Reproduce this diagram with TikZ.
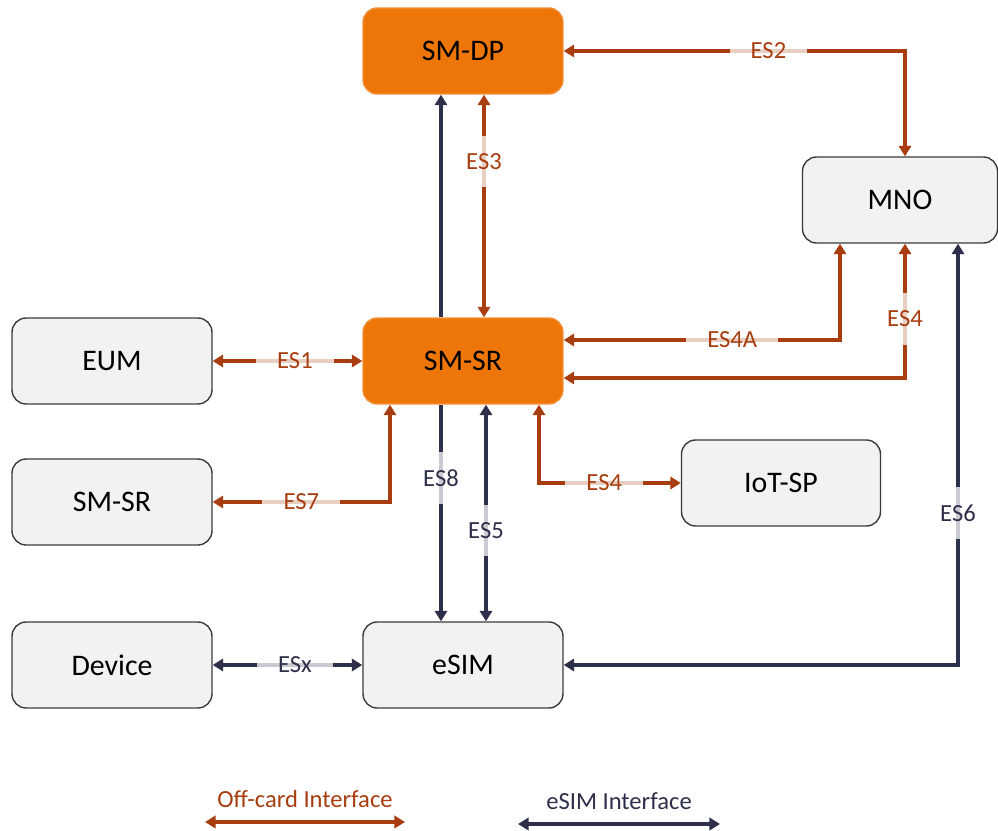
\documentclass[tikz,border=0pt]{standalone}
\usepackage{fontspec}
\setmainfont{Carlito}
\usetikzlibrary{arrows.meta,calc}
\definecolor{offc}{HTML}{A83D0F}
\definecolor{simc}{HTML}{2E2F4A}
\definecolor{orng}{HTML}{EE7608}
\definecolor{boxg}{HTML}{F2F2F2}
\definecolor{brdr}{HTML}{3A3A3A}
\begin{document}
\begin{tikzpicture}[x=0.02cm,y=-0.02cm,
    >={Triangle[width=7pt,length=6pt]},
    ent/.style={rectangle,rounded corners=8pt,minimum width=4cm,minimum height=1.72cm,
      fill=boxg,draw=brdr,line width=0.8pt,font=\fontsize{17}{20}\selectfont},
    hot/.style={ent,fill=orng,draw=orng!80!white},
    off/.style={<->,draw=offc,line width=2pt},
    sim/.style={<->,draw=simc,line width=2pt},
    lbl/.style={fill=white,fill opacity=0.75,text opacity=1,inner xsep=12pt,inner ysep=1pt,
      font=\fontsize{14}{16}\selectfont},
    lblv/.style={lbl,inner xsep=1pt,inner ysep=10pt}]
  \useasboundingbox (0,0) rectangle (998,831);
  % entities
  \node[hot] (smdp) at (463,51) {SM-DP};
  \node[hot] (smsr) at (463,361) {SM-SR};
  \node[ent,minimum width=3.9cm] (mno) at (900,200) {MNO};
  \node[ent] (eum) at (112,361) {EUM};
  \node[ent] (smsrb) at (112,502) {SM-SR};
  \node[ent,minimum width=3.98cm] (iot) at (781,483) {IoT-SP};
  \node[ent] (device) at (112,665) {Device};
  \node[ent] (esim) at (463,665) {eSIM};
  % off-card interfaces
  \draw[off] (smdp.east) -| ($(mno.north)+(5,0)$) node[lbl,text=offc,pos=0.3] {ES2};
  \draw[off] ($(smdp.south)+(21,0)$) -- ($(smsr.north)+(21,0)$) node[lblv,text=offc,pos=0.3] {ES3};
  \draw[off] (eum.east) -- (smsr.west) node[lbl,text=offc,pos=0.55] {ES1};
  \draw[off] ($(smsr.south)+(-73,0)$) |- (smsrb.east) node[lbl,text=offc,pos=0.75] {ES7};
  \draw[off] ($(smsr.south)+(76,0)$) |- (iot.west) node[lbl,text=offc,pos=0.73] {ES4};
  \draw[off] ($(smsr.east)+(0,-21)$) -| ($(mno.south)+(-60,0)$) node[lbl,text=offc,pos=0.305] {ES4A};
  \draw[off] ($(smsr.east)+(0,17)$) -| ($(mno.south)+(5,0)$) node[lblv,text=offc,pos=0.72] {ES4};
  % eSIM interfaces
  \draw[sim,<-] ($(smdp.south)+(-22,0)$) -- ($(smsr.north)+(-22,0)$);
  \draw[sim,->] ($(smsr.south)+(-22,0)$) -- ($(esim.north)+(-22,0)$) node[lblv,text=simc,pos=0.34] {ES8};
  \draw[sim] ($(smsr.south)+(23,0)$) -- ($(esim.north)+(23,0)$) node[lblv,text=simc,pos=0.58] {ES5};
  \draw[sim] (esim.east) -| ($(mno.south)+(58,0)$) node[lblv,text=simc,pos=0.68] {ES6};
  \draw[sim] (device.east) -- (esim.west) node[lbl,text=simc,pos=0.55] {ESx};
  % legend
  \coordinate (offa) at (205,822);
  \coordinate (offb) at (405,822);
  \coordinate (sima) at (518,824);
  \coordinate (simb) at (720,824);
  \draw[off] (offa) -- (offb) node[midway,above=4pt,text=offc,font=\fontsize{14}{16}\selectfont] (offt) {Off-card Interface};
  \draw[sim] (sima) -- (simb) node[midway,above=4pt,text=simc,font=\fontsize{14}{16}\selectfont] (simt) {eSIM Interface};
\end{tikzpicture}
\end{document}
